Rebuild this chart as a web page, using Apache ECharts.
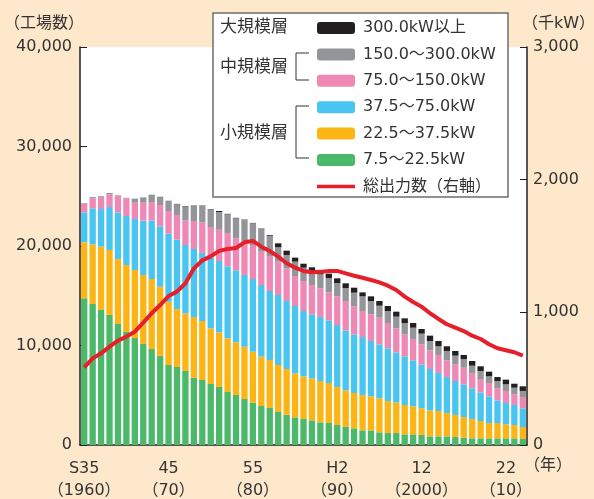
<!DOCTYPE html>
<html>
<head>
<meta charset="utf-8">
<script src="https://cdn.jsdelivr.net/npm/echarts@6/dist/echarts.min.js"></script>
<style>
  html, body { margin: 0; padding: 0; background: #fde8cc; }
  #chart { width: 594px; height: 499px; }
</style>
</head>
<body>
<div id="chart"></div>
<script>
// 年（1960〜2012）
const years = [
  1960, 1961, 1962, 1963, 1964, 1965, 1966, 1967, 1968, 1969,
  1970, 1971, 1972, 1973, 1974, 1975, 1976, 1977, 1978, 1979,
  1980, 1981, 1982, 1983, 1984, 1985, 1986, 1987, 1988, 1989,
  1990, 1991, 1992, 1993, 1994, 1995, 1996, 1997, 1998, 1999,
  2000, 2001, 2002, 2003, 2004, 2005, 2006, 2007, 2008, 2009,
  2010, 2011, 2012
]
// 10年ごとの目盛ラベル
const tickTop = ['S35', '45', '55', 'H2', '12', '22']
const tickBottom = ['（1960）', '（70）', '（80）', '（90）', '（2000）', '（10）']

// 工場数（規模別）
const small1 = [ // 7.5～22.5kW
  14740, 14170, 13570, 13070, 12160, 11360, 10750, 10150, 9650, 8940,
  8040, 7840, 7440, 6770, 6530, 6130, 5830, 5330, 5030, 4620,
  4250, 3920, 3720, 3320, 3050, 2780, 2610, 2480, 2280, 2210,
  2010, 1810, 1680, 1470, 1470, 1270, 1210, 1210, 1070, 1070,
  1010, 870, 870, 870, 800, 740, 670, 670, 670, 670,
  670, 670, 600
]
const small2 = [ // 22.5～37.5kW
  5630, 6000, 6360, 6530, 6530, 6730, 6840, 6940, 7030, 6970,
  6360, 5830, 5790, 6090, 5930, 5600, 5490, 5390, 5290, 5260,
  5130, 4960, 4820, 4720, 4590, 4420, 4290, 4220, 4150, 4020,
  3820, 3680, 3550, 3560, 3420, 3420, 3210, 3080, 2950, 2820,
  2680, 2610, 2550, 2350, 2220, 2070, 1940, 1740, 1540, 1540,
  1410, 1340, 1210
]
const small3 = [ // 37.5～75.0kW
  3010, 3620, 3790, 4320, 4690, 4920, 5120, 5460, 5870, 6070,
  6840, 6970, 6870, 6840, 6840, 7100, 7170, 7240, 7230, 7210,
  7300, 7200, 6940, 7040, 6830, 6770, 6570, 6430, 6430, 6300,
  6230, 6030, 5890, 5820, 5560, 5430, 5300, 5020, 4890, 4620,
  4420, 4160, 3820, 3610, 3410, 3290, 3090, 2880, 2680, 2280,
  2140, 2010, 1880
]
const middle1 = [ // 75.0～150.0kW
  840, 1000, 1200, 1270, 1640, 1780, 1640, 1800, 1870, 2140,
  2280, 2480, 2480, 2810, 3080, 3080, 3220, 3350, 3220, 3350,
  3420, 3350, 3450, 3350, 3290, 3010, 3010, 2950, 2890, 2810,
  2880, 2950, 2820, 2620, 2680, 2680, 2540, 2420, 2210, 2140,
  2010, 1870, 1810, 1680, 1680, 1670, 1540, 1340, 1340, 1210,
  1210, 1070, 1130
]
const middle2 = [ // 150.0～300.0kW
  70, 130, 80, 140, 70, 60, 410, 540, 740, 840,
  1040, 1070, 1370, 1540, 1670, 1770, 1710, 1870, 2010, 2170,
  2180, 2270, 2070, 1440, 1340, 1450, 1340, 1410, 1400, 1440,
  1340, 1310, 1370, 1470, 1340, 1200, 1210, 1170, 1140, 1140,
  1070, 940, 870, 940, 870, 870, 730, 810, 670, 730,
  670, 670, 610
]
const large = [ // 300.0kW以上
  0, 0, 0, 0, 0, 0, 0, 0, 0, 0,
  0, 40, 50, 30, 30, 40, 100, 50, 50, 40,
  40, 50, 80, 400, 430, 400, 400, 370, 370, 440,
  470, 470, 500, 400, 470, 470, 500, 500, 470, 470,
  470, 540, 530, 470, 470, 410, 470, 470, 470, 400,
  470, 400, 470
]
// 総出力数（千kW、右軸）
const output = [
  586, 653, 691, 741, 786, 817, 854, 922, 993, 1055,
  1123, 1156, 1219, 1330, 1392, 1422, 1463, 1477, 1485, 1528,
  1538, 1495, 1462, 1420, 1370, 1337, 1312, 1302, 1305, 1312,
  1312, 1294, 1276, 1261, 1244, 1226, 1201, 1168, 1118, 1078,
  1043, 993, 950, 910, 884, 859, 824, 799, 759, 729,
  714, 699, 673
]

const font = "'DejaVu Sans', 'Noto Sans CJK JP', sans-serif"
const textColor = '#333'
const lineColor = '#e6202a'

function barSeries(name, data, color) {
  return {
    name: name,
    type: 'bar',
    stack: 'count',
    data: data,
    barCategoryGap: '25%',
    itemStyle: { color: color },
    emphasis: { disabled: true }
  }
}

const chart = echarts.init(document.getElementById('chart'))

const option = {
  backgroundColor: '#fde8cc',
  animation: false,
  textStyle: { fontFamily: font },
  grid: {
    left: 80,
    right: 67,
    top: 47,
    bottom: 54,
    outerBoundsMode: 'none',
    show: true,
    backgroundColor: '#fff',
    borderWidth: 0
  },
  legend: {
    orient: 'vertical',
    left: 317,
    top: 20,
    padding: 0,
    itemWidth: 38,
    itemHeight: 12,
    itemGap: 10.4,
    z: 10,
    selectedMode: false,
    textStyle: {
      fontFamily: font,
      fontSize: 16,
      lineHeight: 16,
      color: textColor,
      padding: [0, 0, 0, 3]
    },
    data: [
      '300.0kW以上',
      '150.0～300.0kW',
      '75.0～150.0kW',
      '37.5～75.0kW',
      '22.5～37.5kW',
      '7.5～22.5kW',
      {
        name: '総出力数（右軸）',
        icon: 'path://M0,0L38,0L38,3.5L0,3.5Z',
        itemStyle: { color: lineColor }
      }
    ]
  },
  xAxis: {
    type: 'category',
    data: years,
    boundaryGap: true,
    axisLine: { lineStyle: { color: '#231f20', width: 1.5 } },
    axisTick: {
      inside: true,
      length: 5,
      interval: 0,
      lineStyle: { color: '#231f20' }
    },
    axisLabel: {
      interval: function (index) {
        return index % 10 === 0
      },
      margin: 13,
      fontSize: 16,
      lineHeight: 22,
      color: textColor,
      fontFamily: font,
      formatter: function (value, index) {
        const i = Math.floor(index / 10)
        return tickTop[i] + '\n' + tickBottom[i]
      }
    }
  },
  yAxis: [
    {
      type: 'value',
      min: 0,
      max: 40000,
      interval: 10000,
      splitLine: { show: false },
      axisLine: { show: true, lineStyle: { color: '#231f20', width: 1.5 } },
      axisTick: { show: true, inside: true, length: 7, lineStyle: { color: '#231f20' } },
      axisLabel: {
        margin: 8,
        fontSize: 16,
        color: textColor,
        fontFamily: font,
        formatter: function (v) {
          return v.toLocaleString('en-US')
        }
      }
    },
    {
      type: 'value',
      min: 0,
      max: 3000,
      interval: 1000,
      splitLine: { show: false },
      axisLine: { show: true, lineStyle: { color: '#231f20', width: 1.5 } },
      axisTick: { show: true, inside: true, length: 7, lineStyle: { color: '#231f20' } },
      axisLabel: {
        margin: 6,
        fontSize: 16,
        color: textColor,
        fontFamily: font,
        formatter: function (v) {
          return v.toLocaleString('en-US')
        }
      }
    }
  ],
  series: [
    barSeries('7.5～22.5kW', small1, '#4cb86a'),
    barSeries('22.5～37.5kW', small2, '#fdb515'),
    barSeries('37.5～75.0kW', small3, '#48c5f0'),
    barSeries('75.0～150.0kW', middle1, '#f088b5'),
    barSeries('150.0～300.0kW', middle2, '#939598'),
    barSeries('300.0kW以上', large, '#231f20'),
    {
      name: '総出力数（右軸）',
      type: 'line',
      yAxisIndex: 1,
      data: output,
      symbol: 'none',
      z: 5,
      lineStyle: { color: lineColor, width: 4 },
      itemStyle: { color: lineColor },
      emphasis: { disabled: true }
    }
  ],
  graphic: [
    {
      type: 'rect',
      z: 5,
      shape: { x: 213, y: 13, width: 295, height: 184 },
      style: { fill: '#fff', stroke: '#6d6d6d', lineWidth: 1.5 }
    },
    {
      type: 'text', z: 6, left: 220, top: 19,
      style: { text: '大規模層', font: '17px ' + font, fill: textColor }
    },
    {
      type: 'text', z: 6, left: 220, top: 59,
      style: { text: '中規模層', font: '17px ' + font, fill: textColor }
    },
    {
      type: 'text', z: 6, left: 220, top: 125,
      style: { text: '小規模層', font: '17px ' + font, fill: textColor }
    },
    {
      type: 'polyline', z: 6,
      shape: { points: [[309, 53], [296, 53], [296, 80], [309, 80]] },
      style: { stroke: '#333', lineWidth: 1, fill: null }
    },
    {
      type: 'polyline', z: 6,
      shape: { points: [[309, 106], [296, 106], [296, 158], [309, 158]] },
      style: { stroke: '#333', lineWidth: 1, fill: null }
    },
    {
      type: 'text', left: 4, top: 16,
      style: { text: '（工場数）', font: '16px ' + font, fill: textColor }
    },
    {
      type: 'text', left: 522, top: 16,
      style: { text: '（千kW）', font: '16px ' + font, fill: textColor }
    },
    {
      type: 'text', left: 524, top: 458,
      style: { text: '（年）', font: '16px ' + font, fill: textColor }
    }
  ]
}

chart.setOption(option)
</script>
</body>
</html>
